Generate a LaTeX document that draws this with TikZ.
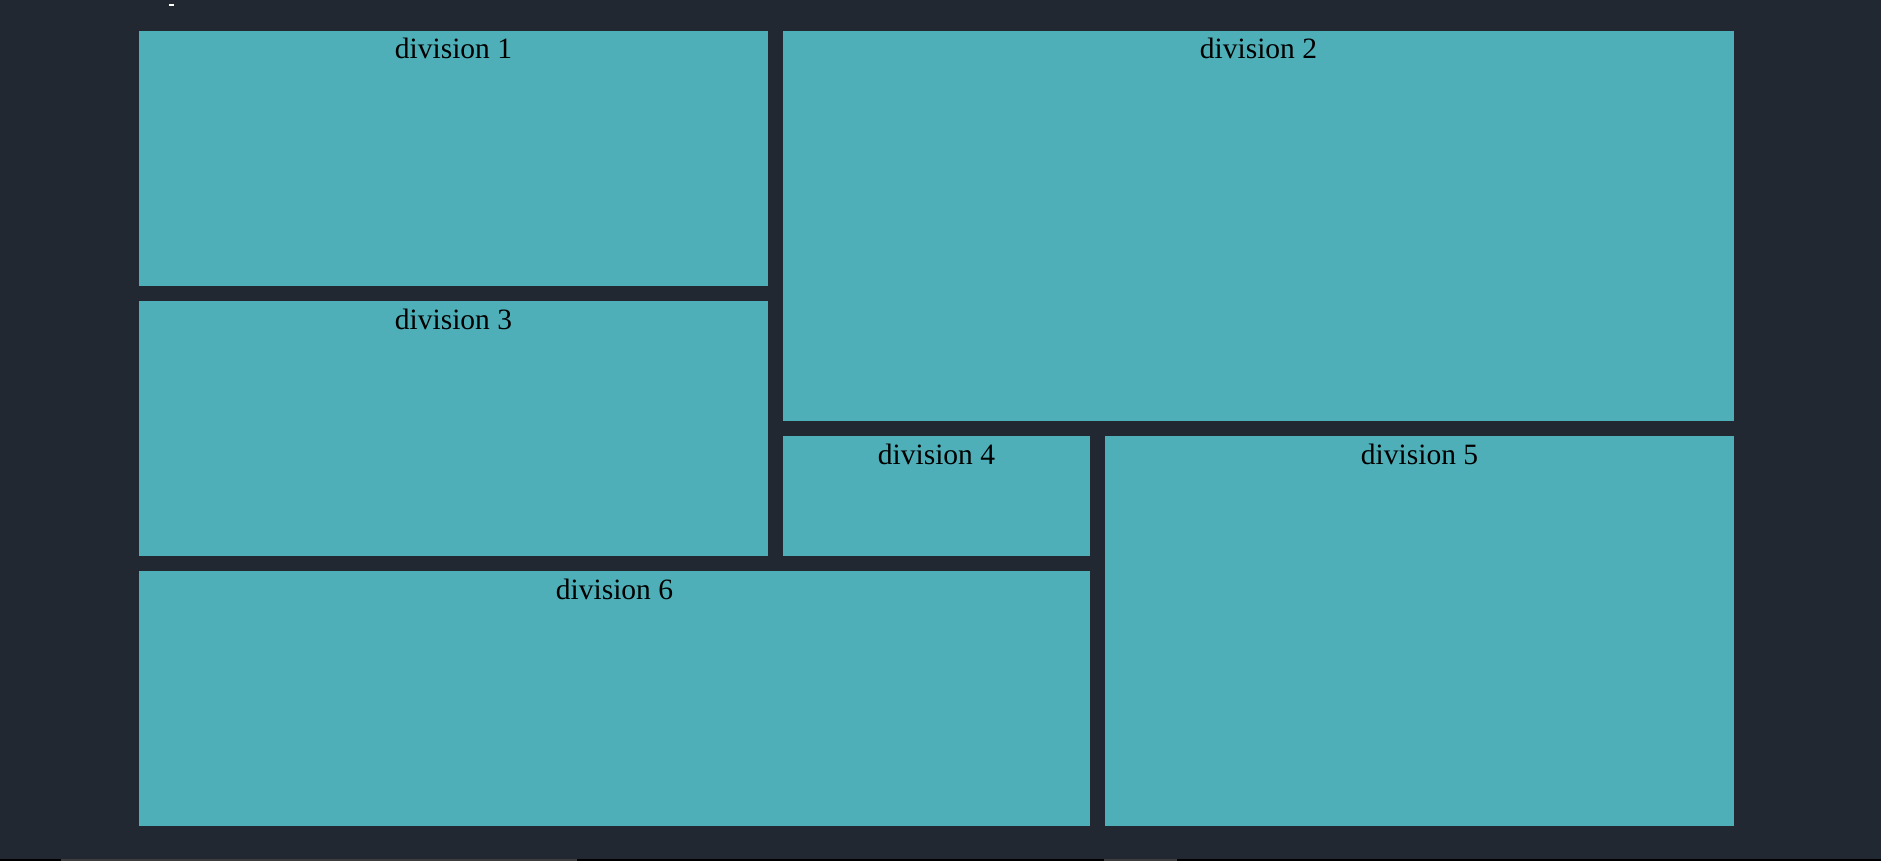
\documentclass[tikz,border=0pt]{standalone}
\usepackage{fontspec}
\setmainfont{Liberation Serif}
\definecolor{bgdark}{RGB}{34,40,49}
\definecolor{tealbox}{RGB}{78,175,184}
\definecolor{barblack}{RGB}{0,0,0}
\definecolor{bargray}{RGB}{60,60,60}
\begin{document}
\begin{tikzpicture}[x=1pt,y=-1pt,
  divbox/.style={fill=tealbox, draw=none, inner sep=0pt, outer sep=0pt, anchor=north west},
  divlabel/.style={anchor=base, inner sep=0pt, text=black, font=\fontsize{29.5}{29.5}\selectfont}]
\useasboundingbox (0,0) rectangle (1881,861);
\fill[bgdark] (0,0) rectangle (1881,861);
% scrollbar-like strip at bottom
\fill[barblack] (0,859) rectangle (1881,861);
\fill[bargray] (61,859) rectangle (577,861);
\fill[bargray] (1104,859) rectangle (1177,861);
% tiny white mark at top
\fill[white] (169,4) rectangle (174,6);
% divisions
\node[divbox, minimum width=629pt, minimum height=255pt] (d1) at (139,31) {};
\node[divbox, minimum width=951pt, minimum height=390pt] (d2) at (783,31) {};
\node[divbox, minimum width=629pt, minimum height=255pt] (d3) at (139,301) {};
\node[divbox, minimum width=307pt, minimum height=120pt] (d4) at (783,436) {};
\node[divbox, minimum width=629pt, minimum height=390pt] (d5) at (1105,436) {};
\node[divbox, minimum width=951pt, minimum height=255pt] (d6) at (139,571) {};
\node[divlabel] (t1) at ([yshift=-28pt]d1.north) {division 1};
\node[divlabel] (t2) at ([yshift=-28pt]d2.north) {division 2};
\node[divlabel] (t3) at ([yshift=-28pt]d3.north) {division 3};
\node[divlabel] (t4) at ([yshift=-28pt]d4.north) {division 4};
\node[divlabel] (t5) at ([yshift=-28pt]d5.north) {division 5};
\node[divlabel] (t6) at ([yshift=-28pt]d6.north) {division 6};
\end{tikzpicture}
\end{document}
